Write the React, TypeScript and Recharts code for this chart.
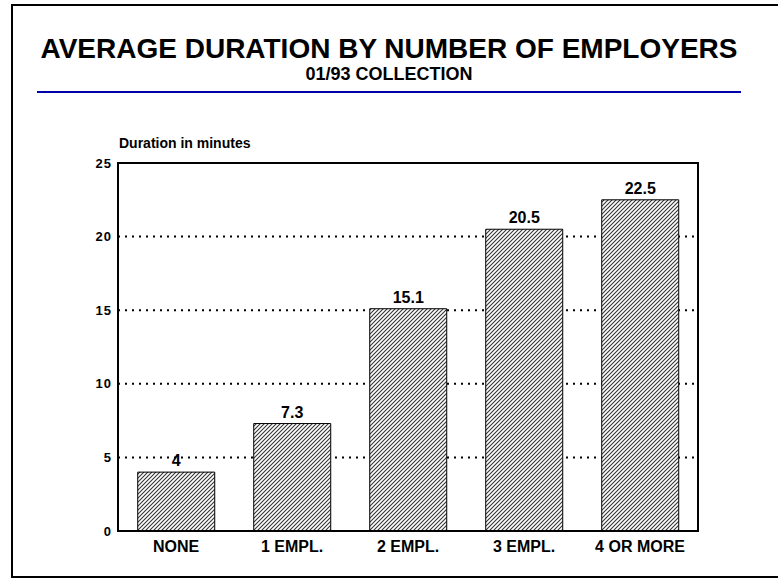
import React from "react";
import { BarChart, Bar, XAxis, YAxis, CartesianGrid, LabelList, ReferenceArea } from "recharts";

const categories = ["NONE", "1  EMPL.", "2  EMPL.", "3  EMPL.", "4 OR MORE"];
const durations = [4, 7.3, 15.1, 20.5, 22.5];
const yTicks = [0, 5, 10, 15, 20, 25];

const data = categories.map((name, i) => ({ name, value: durations[i] }));

const FONT = "'Liberation Sans', Arial, Helvetica, sans-serif";

export default function App() {
  return (
    <div style={{ position: "absolute", left: 0, top: 0, width: 778, height: 578, background: "#fff", fontFamily: FONT }}>
      <svg width={778} height={578} style={{ position: "absolute", left: 0, top: 0 }}>
        <rect x={11} y={4} width={2} height={574} fill="#000" />
        <rect x={11} y={4} width={767} height={2} fill="#000" />
        <rect x={11} y={576} width={767} height={2} fill="#000" />
        <text x={389} y={58} textAnchor="middle" fontFamily={FONT} fontWeight="bold" fontSize={28} fill="#000">
          AVERAGE DURATION BY NUMBER OF EMPLOYERS
        </text>
        <text x={389} y={80} textAnchor="middle" fontFamily={FONT} fontWeight="bold" fontSize={18} fill="#000">
          01/93 COLLECTION
        </text>
        <rect x={37} y={91} width={704} height={2} fill="#0000a8" />
        <text x={119} y={148} fontFamily={FONT} fontWeight="bold" fontSize={14} fill="#000">
          Duration in minutes
        </text>
      </svg>
      <div style={{ position: "absolute", left: 0, top: 0 }}>
        <BarChart
          width={778}
          height={578}
          data={data}
          margin={{ top: 163, right: 80, bottom: 17, left: 78 }}
          barCategoryGap="17%"
          style={{ fontFamily: FONT }}
        >
          <defs>
            <pattern id="hatch" patternUnits="userSpaceOnUse" width={4} height={4}>
              <rect width={4} height={4} fill="#fff" />
              <path d="M-1,1 l2,-2 M0,4 l4,-4 M3,5 l2,-2" stroke="#333" strokeWidth={1.1} />
            </pattern>
          </defs>
          <CartesianGrid horizontal vertical={false} stroke="#000" strokeWidth={2} strokeDasharray="2 5" />
          <XAxis
            dataKey="name"
            tickLine={false}
            tickSize={6}
            tickMargin={4}
            height={30}
            axisLine={{ stroke: "#000", strokeWidth: 2 }}
            tick={{ fill: "#000", fontSize: 16, fontWeight: "bold", fontFamily: FONT }}
            interval={0}
          />
          <YAxis
            domain={[0, 25]}
            ticks={yTicks}
            width={40}
            tickLine={false}
            tickSize={6}
            tickMargin={0}
            axisLine={{ stroke: "#000", strokeWidth: 2 }}
            tick={{ fill: "#000", fontSize: 13, fontWeight: "bold", fontFamily: FONT, letterSpacing: 1 }}
          />
          <Bar dataKey="value" fill="url(#hatch)" stroke="#000" strokeWidth={1} isAnimationActive={false}>
            <LabelList dataKey="value" position="top" offset={6} fill="#000" fontSize={16} fontWeight="bold" fontFamily={FONT} />
          </Bar>
          <ReferenceArea y1={0} y2={25} fill="none" fillOpacity={0} stroke="#000" strokeWidth={2} />
        </BarChart>
      </div>
    </div>
  );
}
